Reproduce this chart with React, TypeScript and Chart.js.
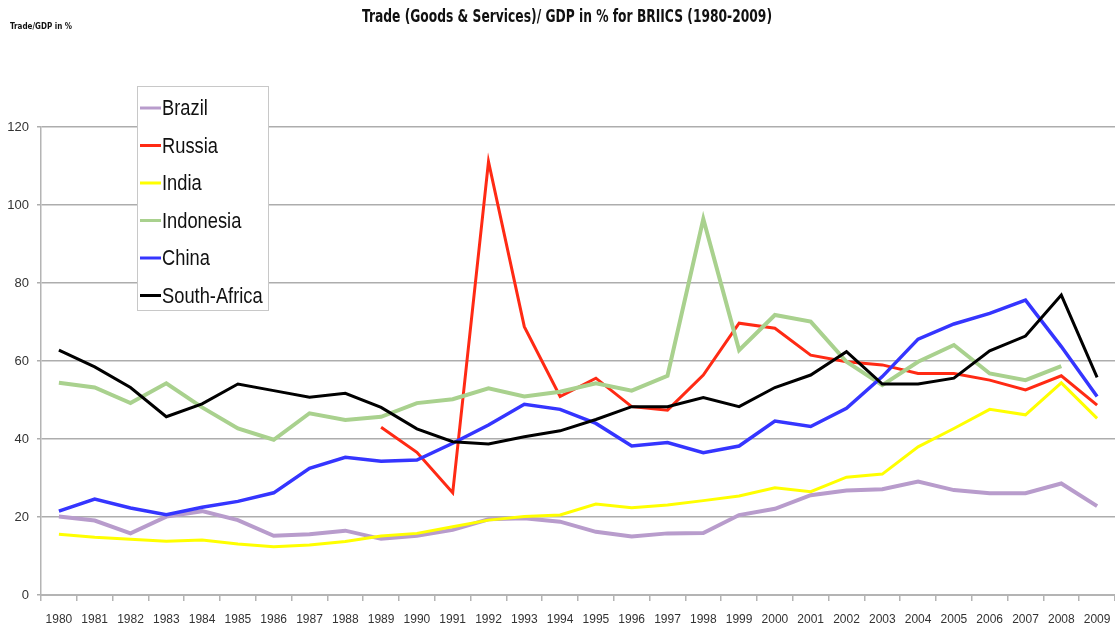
import React, { useEffect, useRef } from "react";
import { Chart, registerables } from "chart.js";

Chart.register(...registerables);

const years = ["1980","1981","1982","1983","1984","1985","1986","1987","1988","1989","1990","1991","1992","1993","1994","1995","1996","1997","1998","1999","2000","2001","2002","2003","2004","2005","2006","2007","2008","2009"];

const brazil = [20.1,19.1,15.8,20.1,21.5,19.2,15.2,15.6,16.5,14.4,15.2,16.7,19.4,19.7,18.8,16.2,15.0,15.8,15.9,20.5,22.1,25.6,26.8,27.1,29.1,26.9,26.1,26.1,28.6,22.8];
const russia = [null,null,null,null,null,null,null,null,null,43.0,36.6,26.2,111.1,68.8,50.9,55.6,48.3,47.4,56.4,69.7,68.4,61.5,59.8,59.0,56.8,56.8,55.1,52.6,56.2,48.7];
const india = [15.6,14.8,14.3,13.8,14.1,13.1,12.4,12.8,13.7,15.1,15.8,17.5,19.2,20.1,20.5,23.3,22.4,23.1,24.2,25.4,27.5,26.5,30.2,31.0,38.0,42.7,47.6,46.2,54.4,45.3];
const indonesia = [54.4,53.2,49.2,54.3,48.1,42.7,39.8,46.6,44.9,45.7,49.2,50.2,53.0,50.9,52.1,54.3,52.4,56.2,96.4,62.8,71.8,70.1,59.8,53.8,59.8,64.1,56.8,55.1,58.7,null];
const china = [21.5,24.6,22.3,20.6,22.5,24.0,26.2,32.5,35.3,34.3,34.6,38.9,43.6,48.9,47.6,44.0,38.2,39.1,36.5,38.2,44.6,43.2,47.9,56.0,65.6,69.5,72.2,75.6,63.7,50.9];
const southAfrica = [62.8,58.5,53.2,45.7,49.0,54.1,52.4,50.7,51.7,48.1,42.6,39.3,38.7,40.6,42.1,45.0,48.3,48.3,50.6,48.3,53.2,56.4,62.4,54.1,54.1,55.6,62.6,66.4,76.9,55.8];

const seriesNames = ["Brazil", "Russia", "India", "Indonesia", "China", "South-Africa"];
const seriesColors = ["#b89ccc", "#ff2a14", "#ffff00", "#a9d18e", "#3535ff", "#000000"];
const seriesWidths = [4, 3, 3, 4, 3.5, 3];
const seriesData = [brazil, russia, india, indonesia, china, southAfrica];

const titleText = "Trade (Goods & Services)/ GDP in % for BRIICS (1980-2009)";
const yAxisText = "Trade/GDP in %";

const NARROW = "'Liberation Sans Narrow', 'DejaVu Sans Condensed', 'Liberation Sans', sans-serif";

function drawFitText(ctx: CanvasRenderingContext2D, text: string, x: number, y: number, width: number, font: string) {
  ctx.save();
  ctx.font = font;
  const w = ctx.measureText(text).width;
  const s = width / w;
  ctx.translate(x, y);
  ctx.scale(s, 1);
  ctx.textAlign = "left";
  ctx.textBaseline = "middle";
  ctx.fillText(text, 0, 0);
  ctx.restore();
}

const overlayPlugin = {
  id: "overlay",
  afterDraw(chart: any) {
    const ctx: CanvasRenderingContext2D = chart.ctx;
    ctx.save();
    ctx.fillStyle = "#111";
    drawFitText(ctx, titleText, 362, 18, 410, `bold 17px ${NARROW}`);
    drawFitText(ctx, yAxisText, 10, 27, 62, `bold 9px ${NARROW}`);

    // legend box
    const bx = 137.5, by = 86.5, bw = 131, bh = 224;
    ctx.fillStyle = "#ffffff";
    ctx.fillRect(bx, by, bw, bh);
    ctx.strokeStyle = "#c8c8c8";
    ctx.lineWidth = 1;
    ctx.strokeRect(bx, by, bw, bh);
    chart.data.datasets.forEach((ds: any, i: number) => {
      const cy = 108 + i * 37.5;
      ctx.strokeStyle = ds.borderColor;
      ctx.lineWidth = 3;
      ctx.beginPath();
      ctx.moveTo(140, cy);
      ctx.lineTo(161, cy);
      ctx.stroke();
      ctx.fillStyle = "#111";
      ctx.font = "20px 'Liberation Sans', Arial, sans-serif";
      ctx.textAlign = "left";
      ctx.textBaseline = "middle";
      ctx.save();
      ctx.translate(162, cy + 1);
      ctx.scale(0.915, 1.12);
      ctx.fillText(ds.label, 0, 0);
      ctx.restore();
    });
    ctx.restore();
  },
};

export default function App() {
  const ref = useRef<HTMLCanvasElement | null>(null);
  useEffect(() => {
    document.body.style.margin = "0";
    if (!ref.current) return;
    const chart = new Chart(ref.current, {
      type: "line",
      data: {
        labels: years,
        datasets: seriesNames.map((name, i) => ({
          label: name,
          data: seriesData[i],
          borderColor: seriesColors[i],
          backgroundColor: seriesColors[i],
          borderWidth: seriesWidths[i],
          pointRadius: 0,
          tension: 0,
          fill: false,
          spanGaps: false,
          order: seriesNames.length - i,
        })),
      },
      options: {
        responsive: false,
        animation: false,
        devicePixelRatio: 1,
        layout: { padding: { top: 127, left: 0, right: 0, bottom: 0 } },
        plugins: {
          legend: { display: false },
          title: { display: false },
          tooltip: { enabled: false },
        },
        scales: {
          x: {
            type: "category",
            offset: true,
            afterFit: (s: any) => { s.height = 39; s.paddingLeft = 0; s.paddingRight = 0; },
            grid: {
              display: true,
              drawOnChartArea: false,
              drawTicks: true,
              tickLength: 6,
              offset: true,
              color: "#b4b4b4",
              lineWidth: 1.5,
            },
            border: { display: true, color: "#b4b4b4", width: 2 },
            ticks: {
              color: "#333",
              font: { family: "'Liberation Sans', Arial, sans-serif", size: 12 },
              padding: 11,
              maxRotation: 0,
              autoSkip: false,
            },
          },
          y: {
            min: 0,
            max: 120,
            afterFit: (s: any) => { s.width = 41; s.paddingTop = 0; s.paddingBottom = 0; },
            grid: {
              color: "#adadad",
              lineWidth: 1.5,
              drawTicks: true,
              tickLength: 4,
            },
            border: { display: true, color: "#b4b4b4", width: 1.5 },
            ticks: {
              stepSize: 20,
              color: "#333",
              font: { family: "'Liberation Sans', Arial, sans-serif", size: 13 },
              padding: 8,
            },
          },
        },
      },
      plugins: [overlayPlugin],
    });
    return () => chart.destroy();
  }, []);
  return (
    <div style={{ width: 1115, height: 634, background: "#fff" }}>
      <canvas ref={ref} width={1115} height={634} style={{ display: "block" }} />
    </div>
  );
}
